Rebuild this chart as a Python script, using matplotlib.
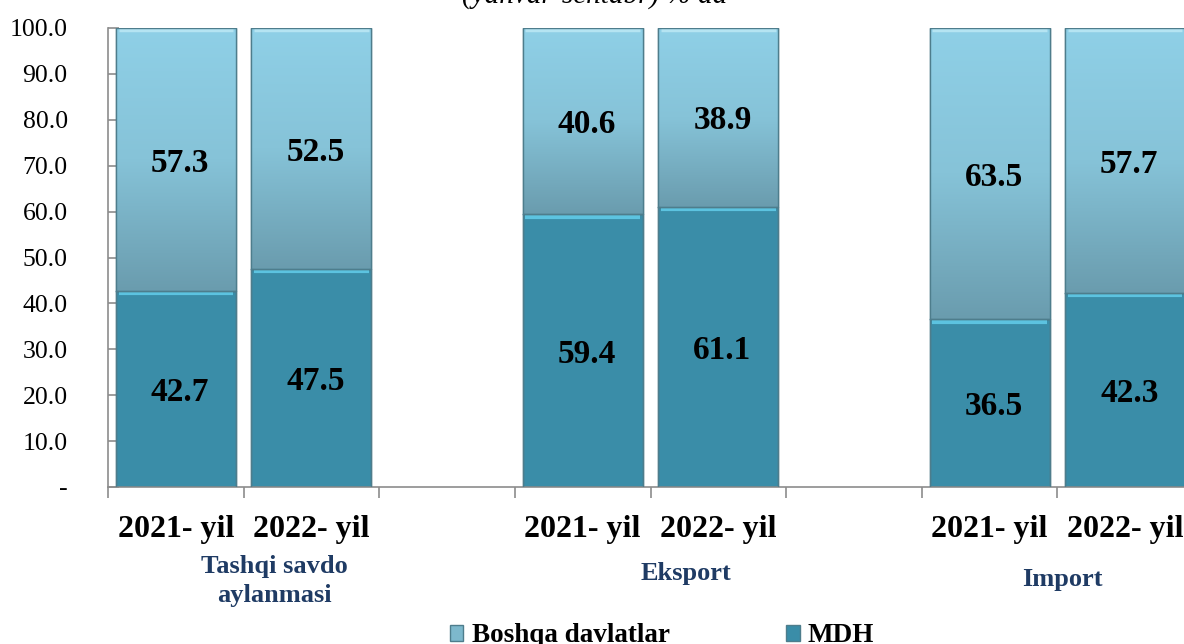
import numpy as np
import matplotlib
matplotlib.use("Agg")
import matplotlib.pyplot as plt
from matplotlib.colors import LinearSegmentedColormap
from matplotlib.patches import Patch

# ---- data ----
years = ["2021- yil", "2022- yil"]
groups = ["Tashqi savdo\naylanmasi", "Eksport", "Import"]
mdh = [42.7, 47.5, 59.4, 61.1, 36.5, 42.3]
boshqa = [57.3, 52.5, 40.6, 38.9, 63.5, 57.7]
yticks = [0, 10, 20, 30, 40, 50, 60, 70, 80, 90, 100]
ytick_labels = ["-", "10.0", "20.0", "30.0", "40.0", "50.0", "60.0", "70.0", "80.0", "90.0", "100.0"]
legend_labels = ["Boshqa davlatlar", "MDH"]
title = "(yanvar-sentabr) % da"

# slot positions (empty slot between groups)
pos = [0, 1, 3, 4, 6, 7]
xlabels = years * 3

plt.rcParams['font.family'] = ['Liberation Serif', 'DejaVu Serif']

fig = plt.figure(figsize=(11.84, 6.44), dpi=100)
ax = fig.add_axes([108/1184, 1-487/644, 1085/1184, 459/644])

c_mdh = '#3A8DA8'
c_top_light = '#8FD0E7'
c_top_mid = '#86C3D8'
c_top_dark = '#6A9CAE'
edge = '#4E7D8C'

w = 0.885
b1 = ax.bar(pos, mdh, width=w, color=c_mdh, edgecolor=edge, linewidth=1.0, zorder=2)
b2 = ax.bar(pos, boshqa, width=w, bottom=mdh, color=c_top_light, edgecolor=edge,
            linewidth=1.0, zorder=2)

# vertical gradient for the upper segment
cmap = LinearSegmentedColormap.from_list('g', [c_top_dark, c_top_mid, c_top_light])
grad = np.linspace(0, 1, 256).reshape(-1, 1)
for p in b2.patches:
    x0, y0 = p.get_x(), p.get_y()
    x1, y1 = x0 + p.get_width(), y0 + p.get_height()
    im = ax.imshow(grad, extent=(x0, x1, y0, y1), origin='lower', cmap=cmap,
                   aspect='auto', zorder=2.5, interpolation='bicubic')
    im.set_clip_path(p)
    ax.plot([x0 + 0.02, x1 - 0.02], [y1 - 0.4, y1 - 0.4], color='#B5E4F2', lw=2.5,
            zorder=2.6, solid_capstyle='butt')
for p in b1.patches:
    x0, y0 = p.get_x(), p.get_y()
    x1, y1 = x0 + p.get_width(), y0 + p.get_height()
    ax.plot([x0 + 0.02, x1 - 0.02], [y1 - 0.5, y1 - 0.5], color='#5CC3E0', lw=3,
            zorder=2.6, solid_capstyle='butt')
for p in list(b1.patches) + list(b2.patches):
    x0, y0 = p.get_x(), p.get_y()
    x1, y1 = x0 + p.get_width(), y0 + p.get_height()
    ax.plot([x0, x1, x1, x0, x0], [y0, y0, y1, y1, y0], color=edge, lw=1.0, zorder=2.7)

# value labels
for x, m, b in zip(pos, mdh, boshqa):
    ax.text(x + 0.03, m / 2 - 0.8, f"{m:.1f}", ha='center', va='center',
            fontsize=24, fontweight='bold', color='black', zorder=4)
    ax.text(x + 0.03, m + b / 2 - 0.8, f"{b:.1f}", ha='center', va='center',
            fontsize=24, fontweight='bold', color='black', zorder=4)

ax.set_xlim(-0.5, 7.5)
ax.set_ylim(0, 100)
ax.set_yticks(yticks)
ax.set_yticklabels(ytick_labels, fontsize=18.5)
ax.set_xticks(pos)
ax.set_xticklabels(xlabels, fontsize=23, fontweight='bold')
ax.set_xticks(np.arange(-0.5, 8.0, 1.0), minor=True)
ax.tick_params(axis='x', which='major', length=0, pad=20)
ax.tick_params(axis='x', which='minor', length=8, direction='out', color='#8C8C8C', width=1.2)
ax.tick_params(axis='y', which='major', length=8, direction='in', color='#8C8C8C',
               width=1.2, pad=29)
for s in ['top', 'right']:
    ax.spines[s].set_visible(False)
for s in ['left', 'bottom']:
    ax.spines[s].set_color('#8C8C8C')
    ax.spines[s].set_linewidth(1.2)

# group labels
gx = [0.724, 3.76, 6.54]
gy = [-0.205, -0.188, -0.202]
for g, x, y in zip(groups, gx, gy):
    ax.text(x, y, g, transform=ax.get_xaxis_transform(), ha='center', va='center',
            fontsize=19, fontweight='bold', color='#1F3B64', linespacing=1.35)

# title (partially cut at top)
fig.text(595/1184, 1 - 3/644, title, ha='center', va='baseline', fontsize=21,
         style='italic')

handles = [Patch(facecolor='#7DB8CC', edgecolor=edge), Patch(facecolor=c_mdh, edgecolor=edge)]
fig.legend(handles, legend_labels, loc='center', bbox_to_anchor=(662/1184, 1 - 636/644),
           ncol=2, frameon=False, prop={'size': 19.5, 'weight': 'bold'},
           handlelength=0.5, handleheight=0.5, handletextpad=0.3, columnspacing=4.3)

fig.savefig('out.png', dpi=100)
